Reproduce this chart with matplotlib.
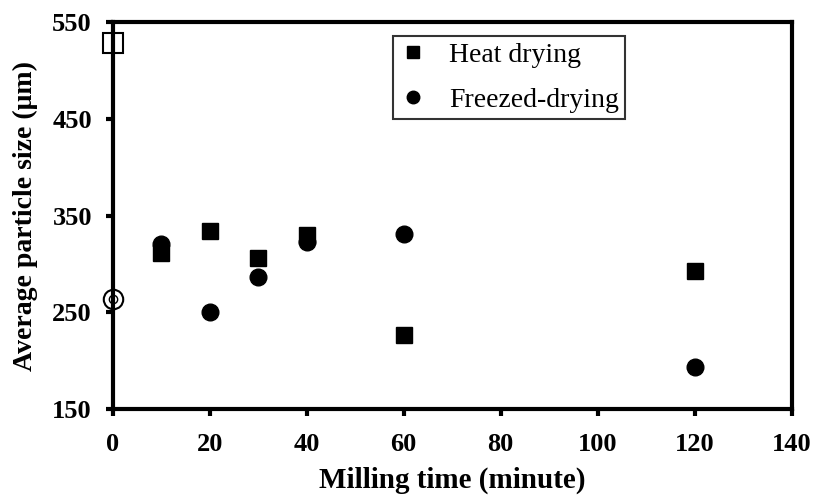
import matplotlib
matplotlib.use("Agg")
import matplotlib.pyplot as plt

# 数据
heat_x = [10, 20, 30, 40, 60, 120]
heat_y = [311, 334, 306, 330, 227, 293]
freeze_x = [10, 20, 30, 40, 60, 120]
freeze_y = [321, 251, 287, 323, 331, 194]
# 原料 (0 分钟, 空心标记)
raw_x = [0]
raw_heat_y = [528]
raw_freeze_y = [264]

plt.rcParams['font.family'] = ['Liberation Serif', 'DejaVu Serif']

fig = plt.figure(figsize=(8.17, 5.04), dpi=100)
ax = fig.add_axes([0.138, 0.188, 0.831, 0.768])

ax.plot(heat_x, heat_y, 's', color='k', markersize=11.5, label='Heat drying')
ax.plot(freeze_x, freeze_y, 'o', color='k', markersize=12, label='Freezed-drying')
ax.plot(raw_x, raw_heat_y, 's', mfc='white', mec='k', mew=1.5, markersize=14, clip_on=False)
ax.plot(raw_x, raw_freeze_y, 'o', mfc='white', mec='k', mew=1.5, markersize=14, clip_on=False)
ax.plot(raw_x, raw_freeze_y, 'o', mfc='white', mec='k', mew=1.0, markersize=6, clip_on=False)

ax.set_xlim(0, 140)
ax.set_ylim(150, 550)
ax.set_xticks(range(0, 141, 20))
ax.set_yticks(range(150, 551, 100))
for s in ax.spines.values():
    s.set_linewidth(3)
ax.tick_params(direction='out', length=5, width=3, labelsize=19)
ax.tick_params(axis='y', pad=10)
ax.tick_params(axis='x', pad=12)
for t in ax.get_xticklabels() + ax.get_yticklabels():
    t.set_fontweight('bold')

ax.set_xlabel('Milling time (minute)', fontsize=21, fontweight='bold', labelpad=8)
ax.set_ylabel('Average particle size (μm)', fontsize=20, fontweight='bold', labelpad=10)

leg = ax.legend(loc='upper left', bbox_to_anchor=(0.413, 0.964), fontsize=20,
                frameon=True, fancybox=False, edgecolor='k', handletextpad=0.8,
                borderpad=0.22, labelspacing=0.7, handlelength=1.0, markerscale=0.75,
                borderaxespad=0)
leg.get_frame().set_linewidth(1.5)

fig.savefig('out.png', dpi=100)
